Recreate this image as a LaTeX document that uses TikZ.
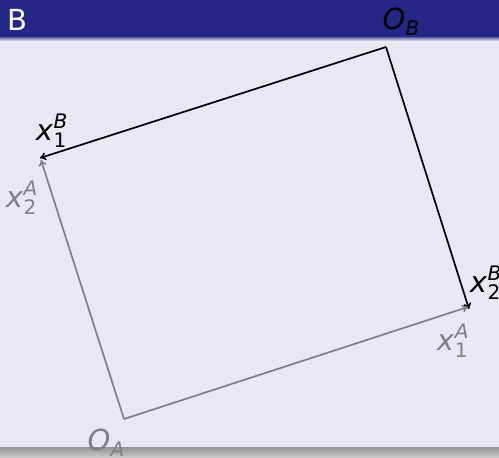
\documentclass[tikz,border=0pt]{standalone}
\usepackage{fontspec}
\setmainfont{DejaVu Sans}
\usetikzlibrary{arrows.meta}
\definecolor{bgc}{RGB}{232,232,242}
\definecolor{hdc}{RGB}{38,38,135}
\definecolor{axA}{RGB}{128,128,128}
\newcommand\lab[3]{\fontsize{29}{29}\selectfont\textit{#1}\kern0.5pt\rlap{\raisebox{12pt}{\fontsize{20}{20}\selectfont\textit{#2}}}\raisebox{-7pt}{\fontsize{20}{20}\selectfont #3}\hphantom{\fontsize{20}{20}\selectfont\textit{#2}}}
\newcommand\olab[1]{\fontsize{29}{29}\selectfont\textit{O}\raisebox{-6pt}{\fontsize{20}{20}\selectfont\textit{#1}}}
\tikzset{
  axisB/.style={draw=black, line width=1.7pt, -{To[length=6pt,width=8pt]}},
  axisA/.style={draw=axA, line width=1.7pt, -{To[length=6pt,width=8pt]}},
  lbl/.style={inner sep=0pt, anchor=center},
}
\begin{document}
\begin{tikzpicture}[x=1pt,y=-1pt]
\useasboundingbox (0,0) rectangle (499,458);
\fill[bgc] (0,0) rectangle (499,458);
\fill[hdc] (0,0) rectangle (499,37);
\shade[top color=hdc!70!bgc, bottom color=bgc] (0,37) rectangle (499,41);
\shade[top color=axA!85!white, bottom color=axA!40!white] (0,447) rectangle (499,458);
\node[lbl, text=white, anchor=west] (title) at (7,20) {\fontsize{29}{29}\selectfont B};
% frame B
\coordinate (OB) at (386,47);
\coordinate (x1B) at (40,158);
\coordinate (x2B) at (469,309);
\draw[axisB] (OB) -- (x1B);
\draw[axisB] (OB) -- (x2B);
% frame A
\coordinate (OA) at (124,419);
\coordinate (x1A) at (468,307);
\coordinate (x2A) at (41,160);
\draw[axisA] (OA) -- (x1A);
\draw[axisA] (OA) -- (x2A);
% labels
\node[lbl] (lOB) at (401,22) {\olab{B}};
\node[lbl, text=axA] (lOA) at (106,443) {\olab{A}};
\node[lbl] (lx1B) at (58,131) {\lab{x}{B}{1}};
\node[lbl, text=axA] (lx2A) at (28,198) {\lab{x}{A}{2}};
\node[lbl, text=axA] (lx1A) at (459,341) {\lab{x}{A}{1}};
\node[lbl] (lx2B) at (492,283) {\lab{x}{B}{2}};
\end{tikzpicture}
\end{document}
